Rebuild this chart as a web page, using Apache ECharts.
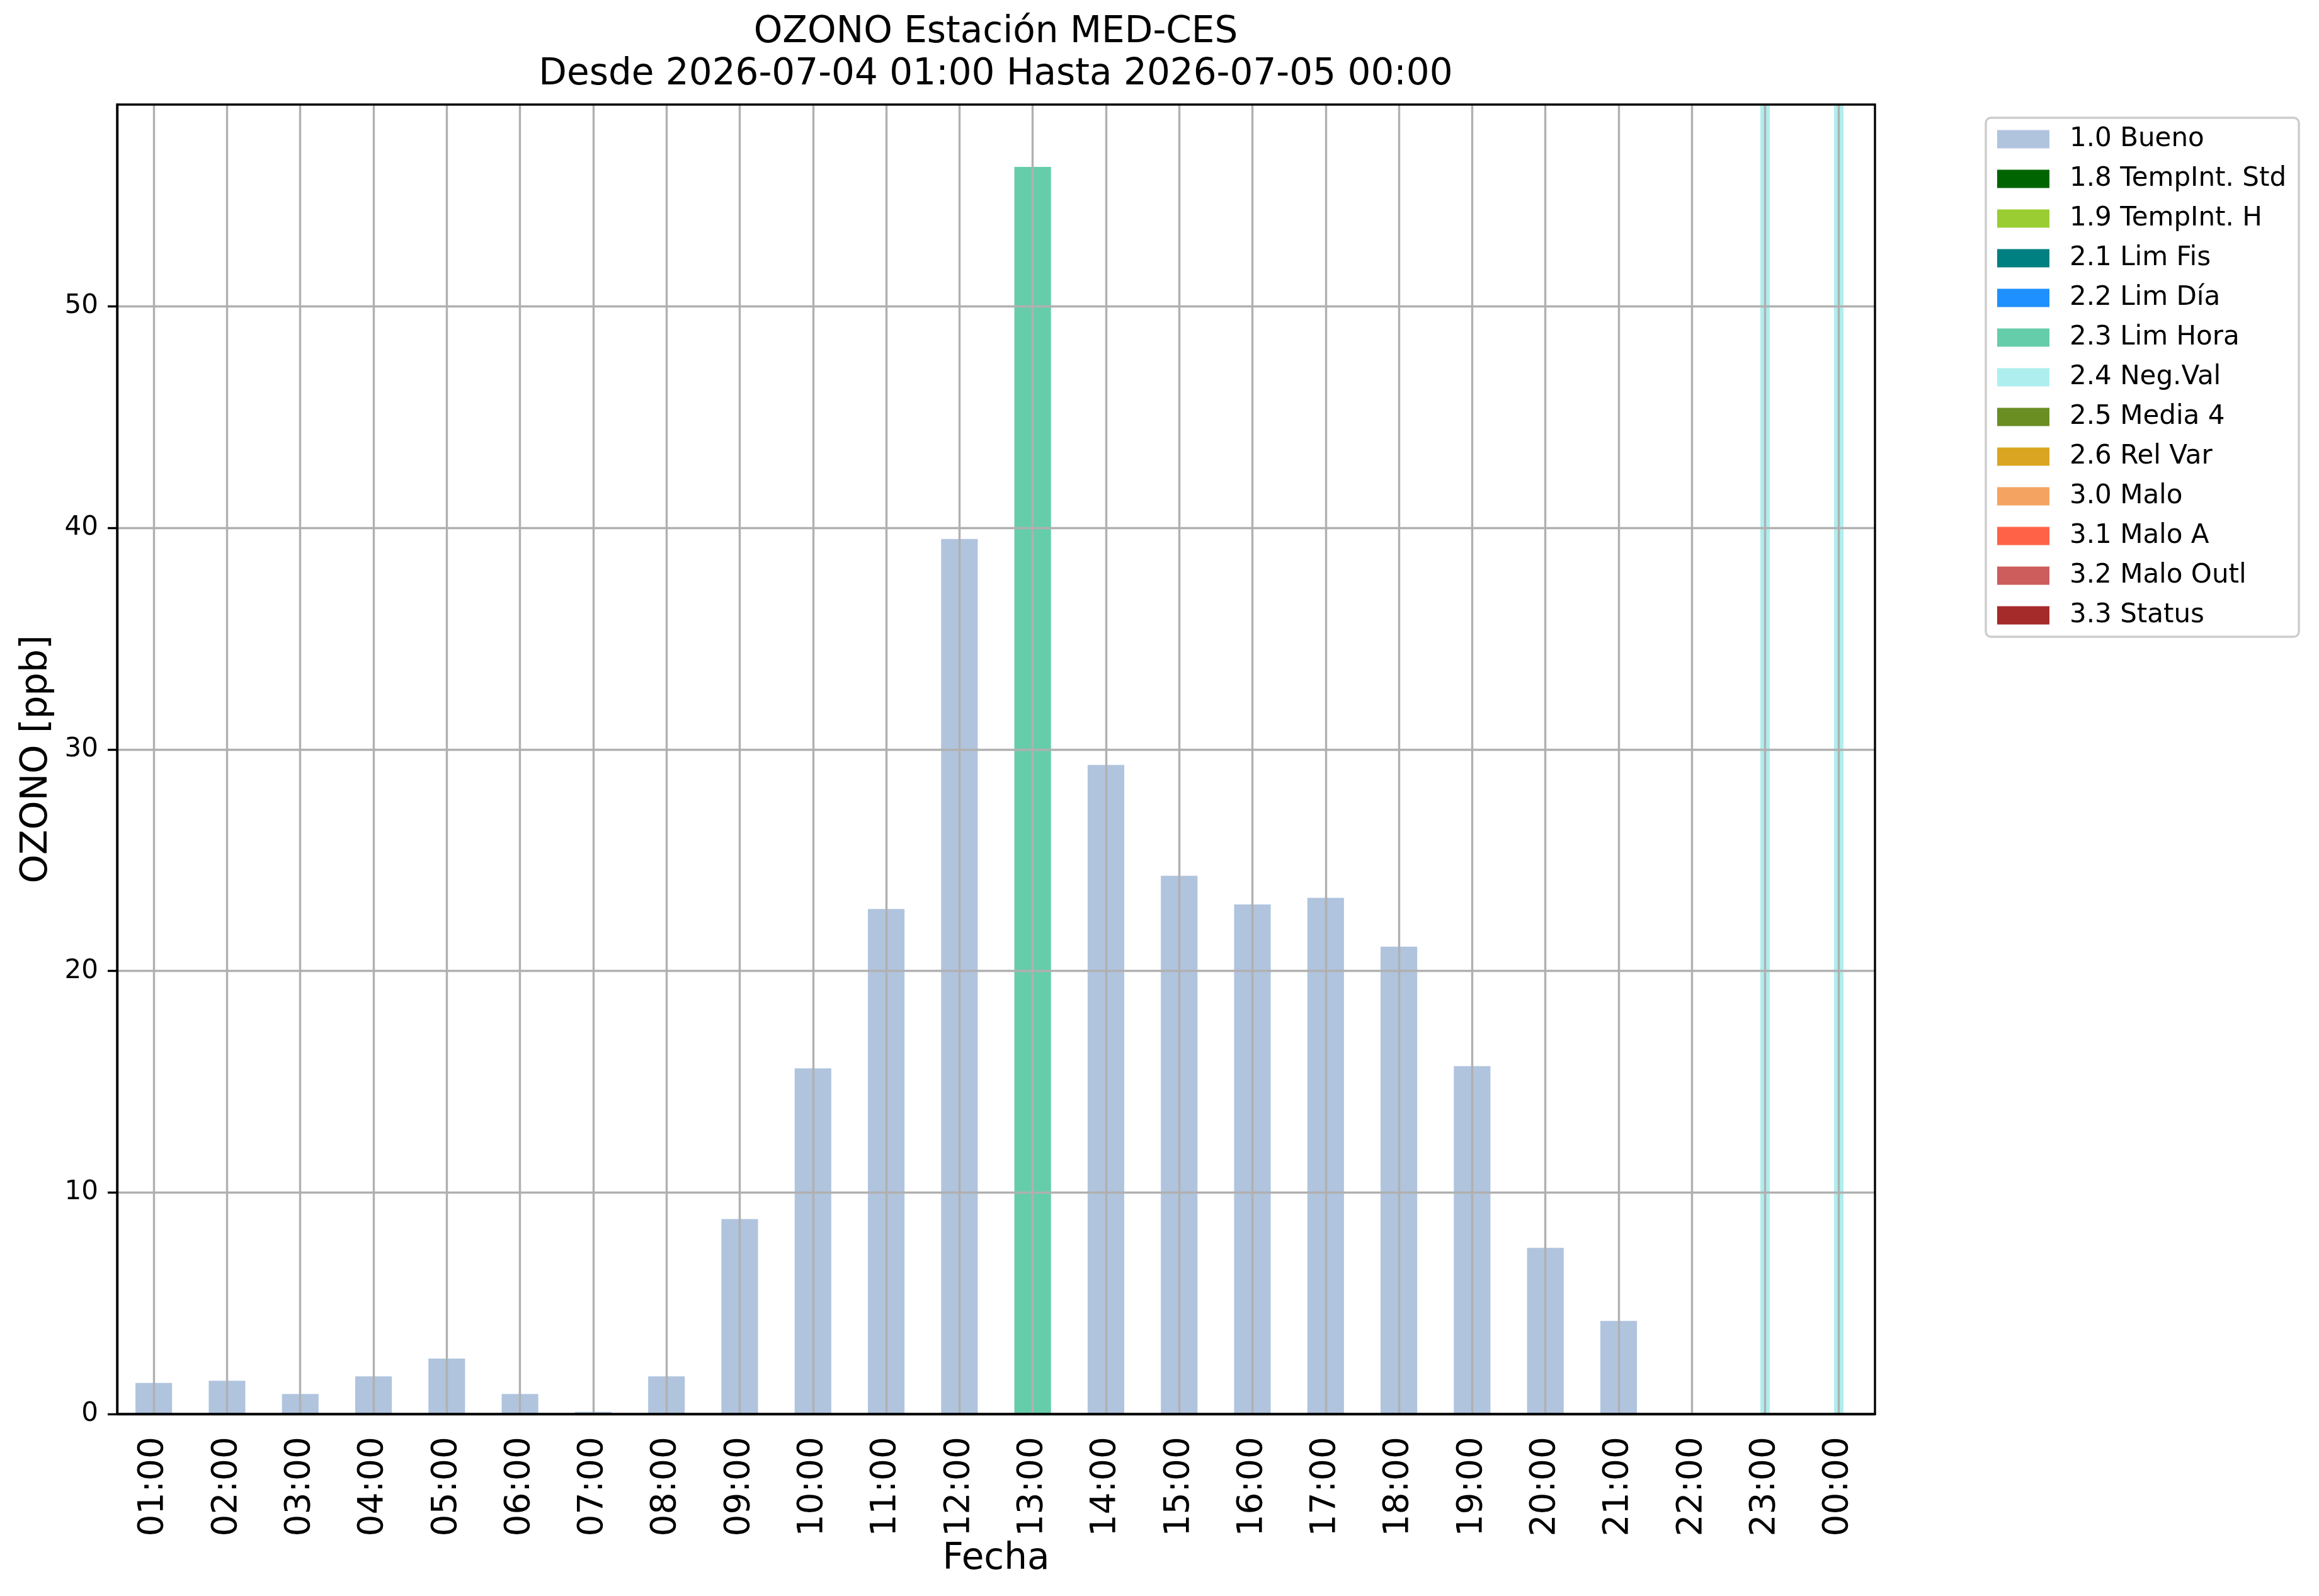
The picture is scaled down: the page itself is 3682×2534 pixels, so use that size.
<!DOCTYPE html>
<html>
<head>
<meta charset="utf-8">
<title>OZONO MED-CES</title>
<script src="https://cdn.jsdelivr.net/npm/echarts@6/dist/echarts.min.js"></script>
<style>
html, body { margin: 0; padding: 0; background: #fff; }
#box { width: 3682px; height: 2534px; }
</style>
</head>
<body>
<div id="box"></div>
<script>
// horas
var hours = ['01:00','02:00','03:00','04:00','05:00','06:00','07:00','08:00','09:00','10:00','11:00','12:00',
	'13:00','14:00','15:00','16:00','17:00','18:00','19:00','20:00','21:00','22:00','23:00','00:00'];
// valores por bandera (null = sin dato en esa bandera)
var bueno = [1.4,1.5,0.9,1.7,2.5,0.9,0.1,1.7,8.8,15.6,22.8,39.5,null,29.3,24.3,23.0,23.3,21.1,15.7,7.5,4.2,null,null,null];
var limHora = [null,null,null,null,null,null,null,null,null,null,null,null,56.3,null,null,null,null,null,null,null,null,null,null,null];
// horas con valores negativos
var negValHours = ['23:00','00:00'];
// banderas de la leyenda
var flagNames = ['1.0 Bueno','1.8 TempInt. Std','1.9 TempInt. H','2.1 Lim Fis','2.2 Lim Día','2.3 Lim Hora',
	'2.4 Neg.Val','2.5 Media 4','2.6 Rel Var','3.0 Malo','3.1 Malo A','3.2 Malo Outl','3.3 Status'];
var flagColors = ['#B0C4DE','#006400','#9ACD32','#008080','#1E90FF','#66CDAA',
	'#AFEEEE','#6B8E23','#DAA520','#F4A460','#FF6347','#CD5C5C','#A52A2A'];
var yTicks = [0,10,20,30,40,50];

var font = 'DejaVu Sans';
var lw = 3.4;

var allVals = bueno.concat(limHora).filter(function (v) { return v !== null; });
var yMax = Math.max.apply(null, allVals) * 1.05;

var flagData = {
	'1.0 Bueno': bueno,
	'2.3 Lim Hora': limHora
};

var series = flagNames.map(function (name, i) {
	var s = {
		name: name,
		type: 'bar',
		stack: 'flags',
		barWidth: '50%',
		data: flagData[name] || [],
		itemStyle: { color: flagColors[i] },
		z: 2
	};
	if (name === '2.4 Neg.Val') {
		s.markLine = {
			silent: true,
			z: 1,
			symbol: ['none','none'],
			label: { show: false },
			lineStyle: { color: flagColors[i], width: 15, type: 'solid', opacity: 1 },
			emphasis: { disabled: true },
			data: negValHours.map(function (h) { return { xAxis: h }; })
		};
	}
	return s;
});

var option = {
	animation: false,
	backgroundColor: '#fff',
	textStyle: { fontFamily: font },
	title: {
		text: 'OZONO Estación MED-CES\nDesde 2026-07-04 01:00 Hasta 2026-07-05 00:00',
		left: 1581,
		top: 18,
		padding: 0,
		textAlign: 'center',
		textStyle: { fontFamily: font, fontSize: 58, fontWeight: 'normal', color: '#000', lineHeight: 67 }
	},
	legend: {
		orient: 'vertical',
		left: 3153,
		top: 187,
		padding: [13, 20, 13, 18],
		itemWidth: 83,
		itemHeight: 29,
		itemGap: 21,
		icon: 'rect',
		backgroundColor: '#fff',
		borderColor: '#cccccc',
		borderWidth: lw,
		borderRadius: 8,
		data: flagNames,
		textStyle: { fontFamily: font, fontSize: 42, lineHeight: 42, color: '#000', padding: [0, 0, 0, 27] }
	},
	grid: {
		left: 186,
		top: 166,
		width: 2791,
		height: 2079,
		show: true,
		borderColor: '#000',
		borderWidth: lw,
		z: 8
	},
	xAxis: {
		type: 'category',
		data: hours,
		z: 5,
		name: 'Fecha',
		nameLocation: 'middle',
		nameGap: 196,
		nameTextStyle: { fontFamily: font, fontSize: 58, color: '#000' },
		axisLine: { lineStyle: { color: '#000', width: lw } },
		axisTick: { alignWithLabel: true, length: 15, lineStyle: { color: '#000', width: lw } },
		axisLabel: { interval: 0, rotate: 90, margin: 36, fontFamily: font, fontSize: 55, color: '#000' },
		splitLine: { show: true, alignWithLabel: true, interval: 0, lineStyle: { color: '#b0b0b0', width: lw } }
	},
	yAxis: {
		type: 'value',
		min: 0,
		max: yMax,
		interval: 10,
		z: 5,
		name: 'OZONO [ppb]',
		nameLocation: 'middle',
		nameGap: 98,
		nameRotate: 90,
		nameTextStyle: { fontFamily: font, fontSize: 58, color: '#000' },
		axisLine: { show: true, lineStyle: { color: '#000', width: lw } },
		axisTick: { show: true, length: 15, customValues: yTicks, lineStyle: { color: '#000', width: lw } },
		axisLabel: { margin: 30, fontFamily: font, fontSize: 42, color: '#000', customValues: yTicks },
		splitLine: { show: true, lineStyle: { color: '#b0b0b0', width: lw } }
	},
	series: series
};

var chart = echarts.init(document.getElementById('box'));
chart.setOption(option);
</script>
</body>
</html>
